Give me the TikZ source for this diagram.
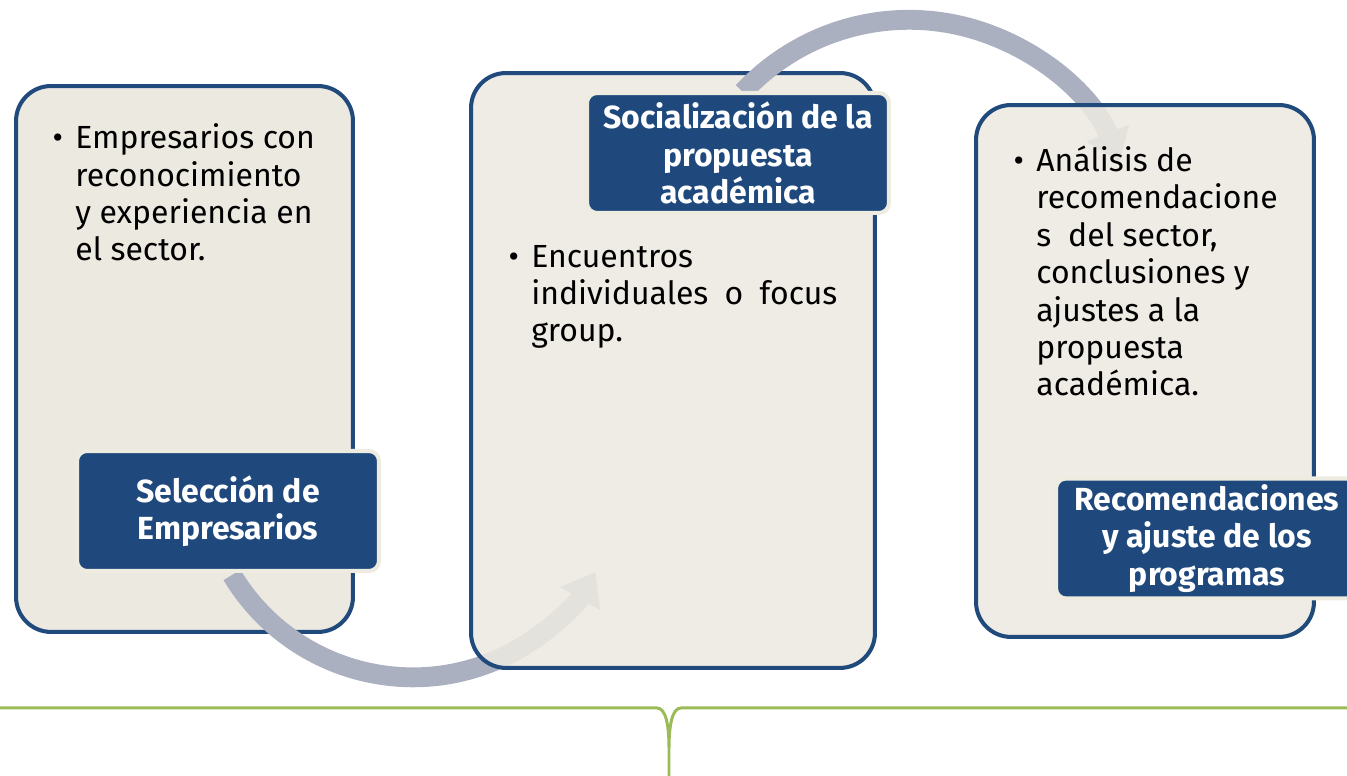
\documentclass[tikz,border=0pt]{standalone}
\usepackage{fontspec}
\setmainfont{Fira Sans}
\usetikzlibrary{arrows.meta}

\definecolor{stageblue}{RGB}{33,74,124}
\definecolor{stagefill}{RGB}{236,233,224}
\definecolor{labelblue}{RGB}{31,73,125}
\definecolor{labelrim}{RGB}{238,236,225}
\definecolor{flowgrey}{RGB}{170,176,192}
\definecolor{linegreen}{RGB}{155,187,89}

\tikzset{
    stage/.style={draw=stageblue, line width=2.3pt, fill=stagefill,
        rounded corners=0.7cm, inner sep=0pt},
    stagelabel/.style={draw=labelrim, line width=2.3pt, fill=labelblue,
        rounded corners=0.2cm, text=white, align=center, inner sep=0pt,
        minimum width=6.04cm, minimum height=2.4cm,
        font=\fontsize{18.2}{21.3}\selectfont\bfseries},
    stagetext/.style={anchor=base west, align=left, inner sep=0pt,
        font=\fontsize{18.2}{21.3}\selectfont},
    flow/.style={draw=flowgrey, line width=11.3pt,
        -{Triangle[width=0.88cm, length=0.62cm]}}
}

\begin{document}
\begin{tikzpicture}[x=0.02cm, y=0.02cm]

    \useasboundingbox (0,0) rectangle (1347,776);

% arrow starts under the labels
    \coordinate (sel-foot) at (232,201);
    \coordinate (soc-head) at (743,684);

% first stage
    \node[stage, minimum width=6.74cm, minimum height=10.92cm] (sel-box) at (184.5,417) {};

% selection to socialization
    \draw[flow] (sel-foot) arc[start angle=211, end angle=330, radius=211];

% second stage
    \node[stage, fill opacity=0.88, minimum width=8.08cm, minimum height=11.9cm] (soc-box) at (673,405.5) {};

% socialization to recommendations
    \draw[flow] (soc-head) arc[start angle=137, end angle=22, radius=227];

% third stage
    \node[stage, fill opacity=0.88, minimum width=6.76cm, minimum height=10.64cm] (rec-box) at (1145,405) {};

% labels
    \node[stagelabel] (sel) at (228,265) {Selección de\\Empresarios};
    \node[stagelabel] (soc) at (738,623) {Socialización de la\\propuesta\\académica};
    \node[stagelabel] (rec) at (1207,237.5) {Recomendaciones\\y ajuste de los\\programas};

% bullet texts (anchored at the last baseline)
    \node[stagetext] (sel-txt) at (75,515)
        {\llap{\textbullet\hspace{7pt}}Empresarios con\\reconocimiento\\y experiencia en\\el sector.};
    \node[stagetext] (soc-txt) at (531,434)
        {\llap{\textbullet\hspace{7pt}}Encuentros\\\makebox[6.12cm][l]{individuales\hfill o\hfill focus}\\group.};
    \node[stagetext] (rec-txt) at (1036,380)
        {\llap{\textbullet\hspace{7pt}}Análisis de\\recomendacione\\s\ \ del sector,\\conclusiones y\\ajustes a la\\propuesta\\académica.};

% bottom line
    \draw[linegreen, line width=1.7pt] (0,68) -- (657,68)
        .. controls (666,68) and (669,50) .. (669,28) -- (669,0)
        (669,28) .. controls (669,50) and (672,68) .. (681,68) -- (1347,68);

\end{tikzpicture}
\end{document}
